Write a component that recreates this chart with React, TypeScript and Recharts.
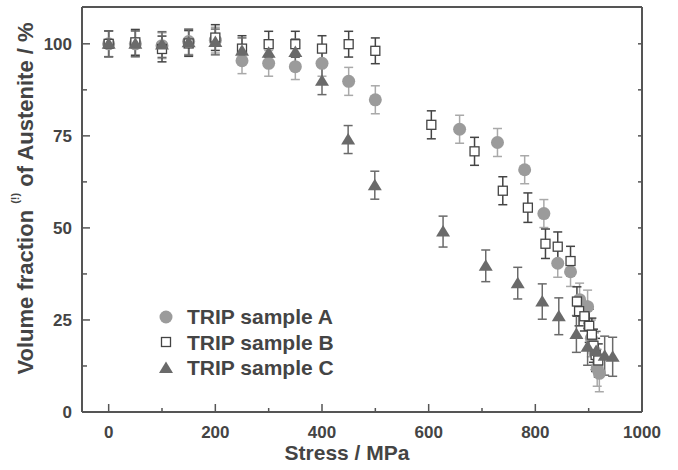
import React from "react";
import { ScatterChart, Scatter, XAxis, YAxis, ErrorBar, Legend } from "recharts";

// ---------- data ----------
const stressA = [0, 50, 100, 150, 200, 250, 300, 350, 400, 450, 500, 658, 729, 780, 816, 842, 866, 883, 898, 905, 911, 916, 920];
const fracA = [100, 100, 99.5, 100.6, 101, 95.4, 94.7, 93.8, 94.7, 89.8, 84.8, 76.8, 73.2, 65.8, 53.9, 40.4, 38.1, 30.5, 28.6, 20, 16.5, 12, 10.5];
const errA = [3.5, 3.5, 3.5, 3.5, 3.5, 3.5, 3.5, 3.5, 3.5, 3.8, 3.8, 3.8, 3.8, 3.8, 3.8, 3.8, 4, 4.5, 4.5, 5, 5, 5, 5];

const stressB = [0, 50, 100, 150, 200, 250, 300, 350, 400, 450, 500, 605, 686, 739, 786, 819, 842, 866, 878, 882, 892, 901, 906, 909, 913, 918];
const fracB = [100, 100.4, 98.6, 100.1, 101.7, 98.7, 99.9, 99.9, 98.7, 99.9, 98.1, 78, 70.8, 60.1, 55.5, 45.7, 44.9, 41, 30, 27.4, 26, 23.4, 21, 18, 15.5, 14];
const errB = [3.5, 3.5, 3.5, 3.5, 3.5, 3.5, 3.5, 3.5, 3.5, 3.5, 3.5, 3.8, 3.8, 3.8, 4, 4, 4, 4, 4, 4, 4, 4.5, 4.5, 4.5, 4.5, 4.5];

const stressC = [0, 50, 100, 150, 200, 250, 300, 350, 400, 449, 499, 627, 707, 767, 813, 844, 877, 898, 914, 930, 945];
const fracC = [100, 100, 99.8, 100.4, 100.5, 98.1, 97.6, 97.8, 90, 74, 61.6, 49, 39.7, 35, 30, 26, 21.2, 17.7, 16.6, 15.3, 15];
const errC = [3.5, 3.5, 3.5, 3.5, 3.5, 3.5, 3.5, 3.5, 3.8, 3.8, 3.8, 4.2, 4.3, 4.3, 4.8, 5, 5, 5, 5.3, 5.3, 5.3];

const seriesNames = ["TRIP sample A", "TRIP sample B", "TRIP sample C"];

const xTicks = [0, 100, 200, 300, 400, 500, 600, 700, 800, 900, 1000];
const xLabelTicks = [0, 200, 400, 600, 800, 1000];
const yTicks = [0, 12.5, 25, 37.5, 50, 62.5, 75, 87.5, 100];
const yLabelTicks = [0, 25, 50, 75, 100];
const xDomain = [-50, 1000];
const yDomain = [0, 110];

const dataA = stressA.map((x, i) => ({ x, y: fracA[i], err: errA[i] }));
const dataB = stressB.map((x, i) => ({ x, y: fracB[i], err: errB[i] }));
const dataC = stressC.map((x, i) => ({ x, y: fracC[i], err: errC[i] }));

// ---------- styles ----------
const FONT = "'Liberation Sans', Arial, Helvetica, sans-serif";
const AXIS = "#555555";
const TEXT = "#444444";
const COLOR_A = "#9b9b9b";
const COLOR_A_ERR = "#a9a9a9";
const COLOR_B = "#444444";
const COLOR_C = "#6a6a6a";

const CircleShape = (p: any) => <circle cx={p.cx} cy={p.cy} r={6.5} fill={COLOR_A} />;
const SquareShape = (p: any) => (
  <rect x={p.cx - 4.5} y={p.cy - 4.5} width={9} height={9} fill="#ffffff" stroke={COLOR_B} strokeWidth={1.3} />
);
const TriangleShape = (p: any) => (
  <path d={`M${p.cx},${p.cy - 6.5} L${p.cx + 7},${p.cy + 5} L${p.cx - 7},${p.cy + 5} Z`} fill={COLOR_C} />
);

const BottomTick = (props: any) => {
  const { x, y, payload } = props;
  const v = payload.value;
  const major = xLabelTicks.includes(v);
  return (
    <g>
      <line x1={x} x2={x} y1={y} y2={y - (major ? 8 : 4)} stroke={AXIS} strokeWidth={1.5} />
      {major && (
        <text x={x} y={y + 26} textAnchor="middle" fill={TEXT} fontSize={17} fontWeight="bold" fontFamily={FONT}>
          {v}
        </text>
      )}
    </g>
  );
};

const TopTick = (props: any) => {
  const { x, y } = props;
  return <line x1={x} x2={x} y1={y} y2={y + 4} stroke={AXIS} strokeWidth={1.5} />;
};

const LeftTick = (props: any) => {
  const { x, y, payload } = props;
  const v = payload.value;
  const major = yLabelTicks.includes(v);
  return (
    <g>
      <line x1={x} x2={x + (major ? 8 : 5)} y1={y} y2={y} stroke={AXIS} strokeWidth={1.5} />
      {major && (
        <text x={x - 10} y={y} dy="0.36em" textAnchor="end" fill={TEXT} fontSize={17} fontWeight="bold" fontFamily={FONT}>
          {v}
        </text>
      )}
    </g>
  );
};

const RightTick = (props: any) => {
  const { x, y } = props;
  return <line x1={x} x2={x - 4} y1={y} y2={y} stroke={AXIS} strokeWidth={1.5} />;
};

const YLabel = (props: any) => {
  const vb = props.viewBox || { x: 0, y: 7, width: 82, height: 405 };
  const cx = vb.x + vb.width - 57;
  const cy = vb.y + vb.height / 2 - 11;
  return (
    <text
      x={cx}
      y={cy}
      transform={`rotate(-90, ${cx}, ${cy})`}
      textAnchor="middle"
      dominantBaseline="central"
      fill={TEXT}
      fontSize={22}
      fontWeight="bold"
      fontFamily={FONT}
    >
      <tspan>Volume fraction </tspan>
      <tspan fontSize={11} dy={-10}>(!)</tspan>
      <tspan dy={10}> of Austenite / %</tspan>
    </text>
  );
};

const XLabel = (props: any) => {
  const vb = props.viewBox || { x: 82, y: 412, width: 560, height: 58 };
  const cx = vb.x + vb.width / 2 - 15;
  return (
    <text x={cx} y={vb.y + 48} textAnchor="middle" fill={TEXT} fontSize={21} fontWeight="bold" fontFamily={FONT}>
      Stress / MPa
    </text>
  );
};

const LegendMarker = ({ i }: { i: number }) => (
  <svg width={18} height={18} style={{ display: "block" }}>
    {i === 0 && <circle cx={9} cy={9} r={6.5} fill={COLOR_A} />}
    {i === 1 && <rect x={4.5} y={4.5} width={9} height={9} fill="#fff" stroke={COLOR_B} strokeWidth={1.3} />}
    {i === 2 && <path d="M9,2.5 L16,14 L2,14 Z" fill={COLOR_C} />}
  </svg>
);

const LegendContent = () => (
  <div style={{ fontFamily: FONT, fontWeight: "bold", fontSize: 21, color: TEXT }}>
    {seriesNames.map((n, i) => (
      <div key={n} style={{ display: "flex", alignItems: "center", height: 25.5, whiteSpace: "nowrap" }}>
        <LegendMarker i={i} />
        <span style={{ marginLeft: 12, lineHeight: "25px" }}>{n}</span>
      </div>
    ))}
  </div>
);

export default function App() {
  return (
    <div style={{ position: "absolute", left: 0, top: 0, background: "#fff" }}>
      <ScatterChart width={678} height={470} margin={{ top: 0, right: 0, left: 0, bottom: 0 }}>
        <XAxis
          dataKey="x"
          type="number"
          domain={xDomain}
          ticks={xTicks}
          interval={0}
          height={58}
          tickSize={0}
          tickMargin={0}
          tickLine={false}
          tick={BottomTick}
          axisLine={{ stroke: AXIS, strokeWidth: 2 }}
          allowDataOverflow
          label={XLabel}
        />
        <XAxis
          xAxisId="top"
          orientation="top"
          type="number"
          domain={xDomain}
          ticks={xTicks}
          interval={0}
          height={7}
          tickSize={0}
          tickMargin={0}
          tickLine={false}
          tick={TopTick}
          axisLine={{ stroke: AXIS, strokeWidth: 2 }}
          allowDataOverflow
        />
        <YAxis
          dataKey="y"
          type="number"
          domain={yDomain}
          ticks={yTicks}
          interval={0}
          width={82}
          tickSize={0}
          tickMargin={0}
          tickLine={false}
          tick={LeftTick}
          axisLine={{ stroke: AXIS, strokeWidth: 2 }}
          allowDataOverflow
          label={YLabel}
        />
        <YAxis
          yAxisId="right"
          orientation="right"
          type="number"
          domain={yDomain}
          ticks={yTicks}
          interval={0}
          width={36}
          tickSize={0}
          tickMargin={0}
          tickLine={false}
          tick={RightTick}
          axisLine={{ stroke: AXIS, strokeWidth: 2 }}
          allowDataOverflow
        />
        <Legend
          layout="vertical"
          align="center"
          verticalAlign="middle"
          content={LegendContent}
          wrapperStyle={{ position: "absolute", left: 157, top: 304, width: 240, height: 80 }}
        />
        <Scatter name={seriesNames[0]} data={dataA} shape={CircleShape} isAnimationActive={false}>
          <ErrorBar dataKey="err" direction="y" width={4.5} stroke={COLOR_A_ERR} strokeWidth={1.5} />
        </Scatter>
        <Scatter name={seriesNames[1]} data={dataB} shape={SquareShape} isAnimationActive={false}>
          <ErrorBar dataKey="err" direction="y" width={4.5} stroke={COLOR_B} strokeWidth={1.5} />
        </Scatter>
        <Scatter name={seriesNames[2]} data={dataC} shape={TriangleShape} isAnimationActive={false}>
          <ErrorBar dataKey="err" direction="y" width={4.5} stroke={COLOR_C} strokeWidth={1.5} />
        </Scatter>
      </ScatterChart>
    </div>
  );
}
